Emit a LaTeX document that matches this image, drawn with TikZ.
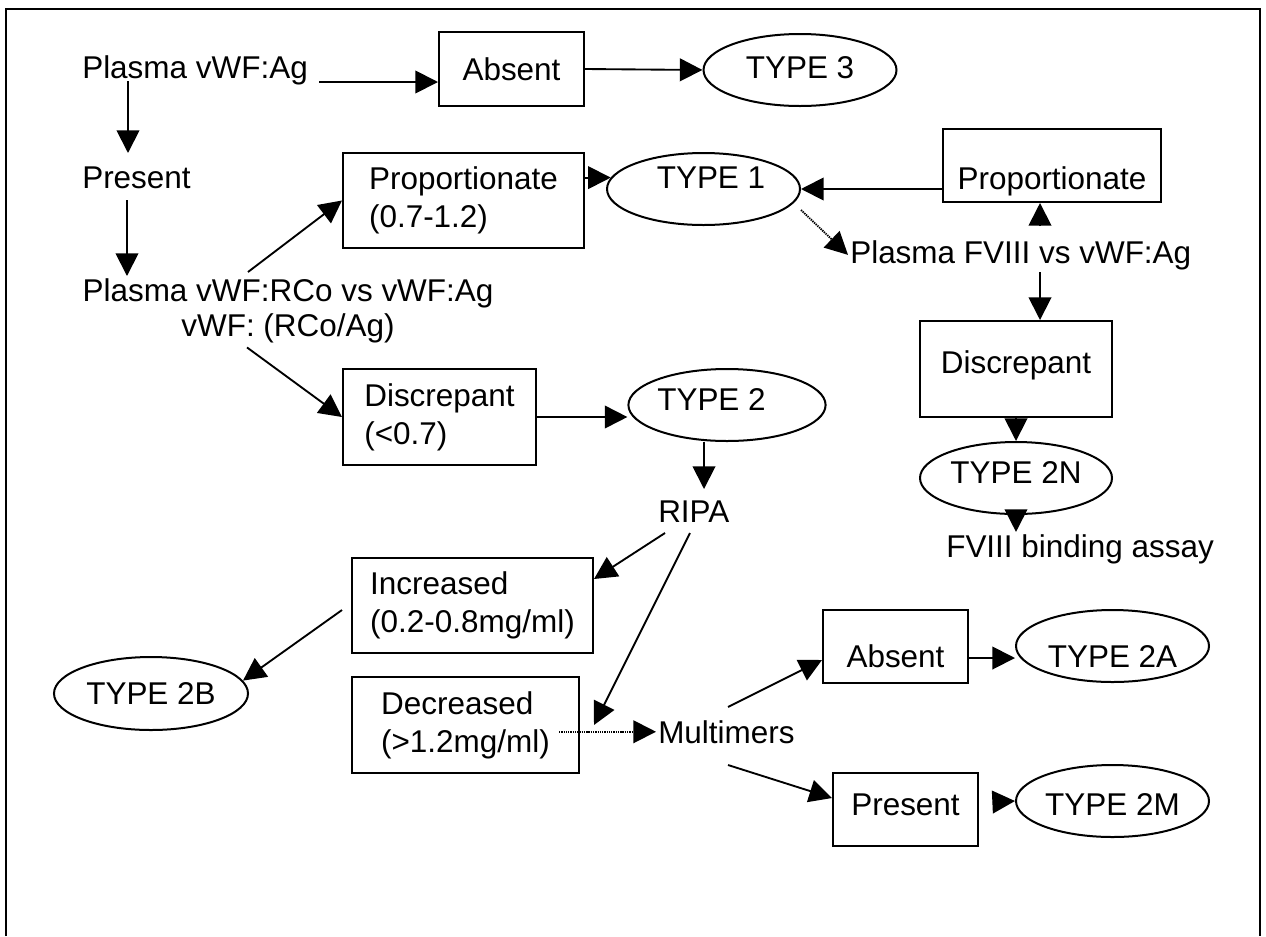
\documentclass[tikz,border=0pt]{standalone}
\usepackage{fontspec}
\setmainfont{Liberation Sans}
\usetikzlibrary{shapes.geometric,arrows.meta,calc}

\tikzset{every picture/.style={line width=1.4pt},
  txt/.style={inner sep=1pt,font=\fontsize{23.6}{28.5}\selectfont},
  box/.style={txt,draw,rectangle,inner sep=0pt,line width=1.5pt,align=left},
  oval/.style={txt,draw,ellipse,inner sep=0pt,line width=1.5pt,minimum width=144.75pt,minimum height=54pt},
  arr/.style={-{Triangle[length=17pt,width=17pt]}},
  dotarr/.style={arr,dash pattern=on 1pt off 0.7pt}}

\begin{document}
\begin{tikzpicture}[x=0.75pt,y=0.75pt,yscale=-1,xscale=1]
\useasboundingbox (0,0) rectangle (1266,936);

%Frame
\draw [line width=1.5pt] (6,936) -- (6,9) -- (1260,9) -- (1260,936) ;

% Text Node
\node [txt,anchor=base west] (plasmaAg) at (80,78) {Plasma vWF:Ag};
% Text Node
\node [txt,anchor=base west] (present) at (80,188) {Present};
% Text Node
\node [txt,anchor=north,align=center,font=\fontsize{23.6}{26.3}\selectfont] (ratio) at (288,276) {Plasma vWF:RCo vs vWF:Ag\\vWF: (RCo/Ag)};
% Text Node
\node [txt,anchor=base west] (plasmaF8) at (848,263) {Plasma FVIII vs vWF:Ag};
% Text Node
\node [txt,anchor=base west] (binding) at (944,557) {FVIII binding assay};
% Text Node
\node [txt,anchor=base west] (ripa) at (656,522) {RIPA};
% Text Node
\node [txt,anchor=base west] (multimers) at (656,743) {Multimers};

%Shape: Rectangle
\node [box,minimum width=108.75pt,minimum height=55.5pt] (absentA) at (511.5,69) {Absent};
%Shape: Rectangle
\node [box,minimum width=180.75pt,minimum height=71.25pt] (propA) at (463.5,200.5) {Proportionate\\(0.7-1.2)};
%Shape: Rectangle
\node [box,minimum width=144.75pt,minimum height=72pt] (discA) at (439.5,417) {Discrepant\\(<0.7)};
%Shape: Rectangle
\node [box,minimum width=180.75pt,minimum height=71.25pt] (incA) at (472.5,605.5) {Increased\\(0.2-0.8mg/ml)};
%Shape: Rectangle
\node [box,minimum width=170.25pt,minimum height=72pt] (decA) at (465.5,725) {Decreased\\(>1.2mg/ml)};
%Shape: Rectangle
\node [box,minimum width=163.5pt,minimum height=54.75pt,text height=35.25pt,text depth=0pt] (propB) at (1052,165.5) {Proportionate};
%Shape: Rectangle
\node [box,minimum width=144pt,minimum height=72pt,text height=17.25pt,text depth=11.25pt] (discB) at (1016,369) {Discrepant};
%Shape: Rectangle
\node [box,minimum width=108.75pt,minimum height=54.75pt,text height=30.75pt,text depth=0pt] (absentB) at (895.5,646.5) {Absent};
%Shape: Rectangle
\node [box,minimum width=108.75pt,minimum height=54.75pt,text height=17pt,text depth=8.5pt] (presentB) at (905.5,809.5) {Present};

%Shape: Ellipse
\node [oval,text height=17pt,text depth=4.5pt] (type3) at (800,70) {TYPE 3};
%Shape: Ellipse
\node [oval,text height=17pt,text depth=18.5pt] (type1) at (703.5,189) {\hspace*{11.25pt}TYPE 1};
%Shape: Ellipse
\node [oval,text height=17pt,text depth=9.5pt] (type2) at (727,405) {TYPE 2\hspace*{23.25pt}};
%Shape: Ellipse
\node [oval,minimum width=144pt,text height=17pt,text depth=9.5pt] (type2N) at (1016,478) {TYPE 2N};
%Shape: Ellipse
\node [oval,minimum width=145.5pt,minimum height=54.75pt] (type2B) at (151,693.5) {TYPE 2B};
%Shape: Ellipse
\node [oval,text height=31.5pt,text depth=0pt] (type2A) at (1112.5,646) {TYPE 2A};
%Shape: Ellipse
\node [oval,text height=21pt,text depth=0pt] (type2M) at (1112.5,801) {TYPE 2M};

%Straight Lines
\draw [arr] ($(plasmaAg.base west)+(48,3)$) -- ($(present.base west)+(48,-35)$) ;
\draw [arr] ($(plasmaAg.base east)+(9,4)$) coordinate (c2) -- (c2 -| absentA.west) ;
\draw [arr] (absentA.east) -- (type3.west) ;
\draw [arr] ($(present.base west)+(47,12)$) coordinate (c4) -- (c4 |- ratio.north) ;
\draw [arr] ($(ratio.north)+(-40,-4)$) -- (propA.west) ;
\draw [arr] ($(ratio.south)+(-41,2.5)$) -- (discA.west) ;
\draw [arr] (propA.east |- type1.173) -- (type1.173) ;
\draw [arr] (propB.west |- type1.east) -- (type1.east) ;
\draw [dotarr] ($(type1.east)+(0,21)$) -- (plasmaF8.west) ;
\draw [arr] ($(plasmaF8.base west)+(192,-37)$) coordinate (c10) -- (c10 |- propB.south) ;
\draw [arr] ($(plasmaF8.base west)+(192,9)$) coordinate (c11) -- (c11 |- discB.north) ;
\draw [arr] (discB.south) -- (type2N.north) ;
\draw [arr] (type2N.south) -- (type2N.south |- binding.north) ;
\draw [arr] (discA.east) -- (discA.east -| type2.west) ;
\draw [arr] ($(type2.south)+(-23,0)$) -- ($(ripa.base west)+(48,-33)$) ;
\draw [arr] ($(ripa.base west)+(9,11)$) -- ($(incA.north east)+(0,22)$) ;
\draw [arr] ($(ripa.base west)+(34,11)$) -- ($(decA.east)+(14,0)$) ;
\draw [dotarr] ($(decA.east |- multimers.west)+(-21,0)$) -- (multimers.west) ;
\draw [arr] ($(incA.west)+(-9,4.5)$) -- (type2B.8) ;
\draw [arr] ($(multimers.base west)+(72,-36)$) -- ($(absentB.west)+(0,13.5)$) ;
\draw [arr] ($(multimers.base west)+(72,22)$) -- ($(presentB.west)+(0,-11.5)$) ;
\draw [arr] ($(absentB.east)+(0,11.5)$) coordinate (c22) -- (c22 -| type2A.west) ;
\draw [arr] ($(presentB.east)+(14,-7.5)$) -- (type2M.west) ;

\end{tikzpicture}
\end{document}
